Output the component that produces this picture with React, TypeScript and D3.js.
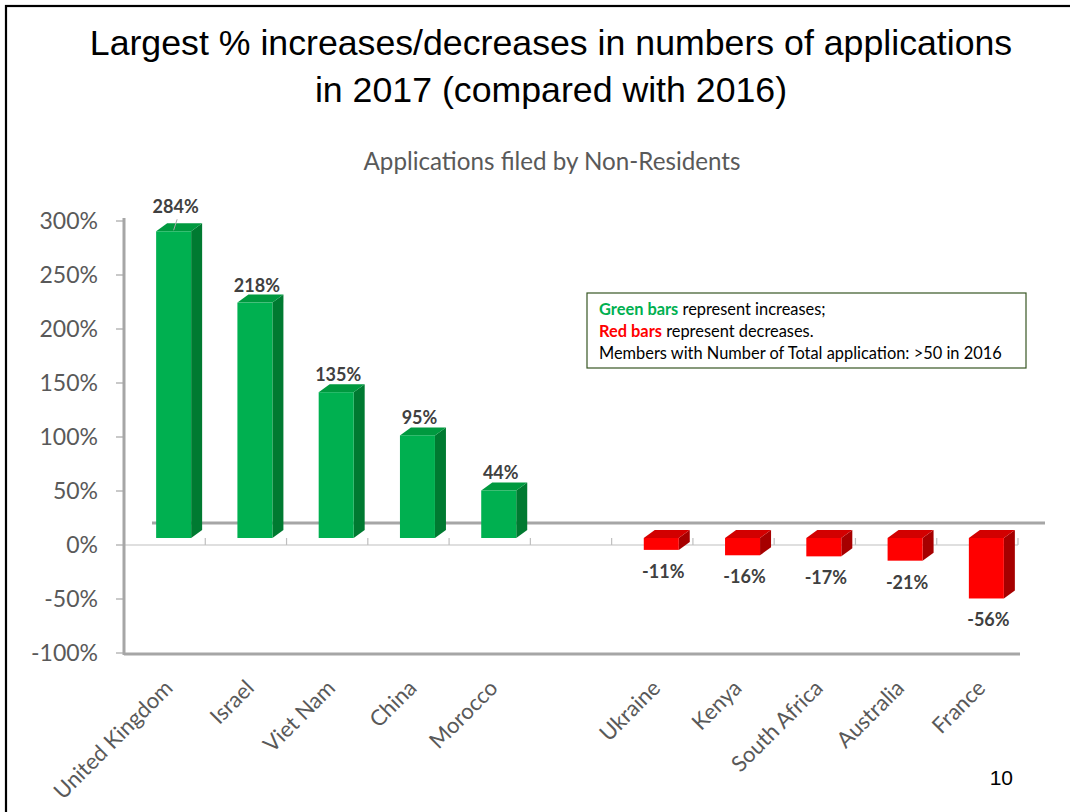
import React from "react";
import * as d3 from "d3";

const categories = ["United Kingdom", "Israel", "Viet Nam", "China", "Morocco", "", "Ukraine", "Kenya", "South Africa", "Australia", "France"];
const values: (number | null)[] = [284, 218, 135, 95, 44, null, -11, -16, -17, -21, -56];
const yTicks = [-100, -50, 0, 50, 100, 150, 200, 250, 300];
const titleLines = ["Largest % increases/decreases in numbers of applications", "in 2017 (compared with 2016)"];
const subtitle = "Applications filed by Non-Residents";

const W = 1070;
const H = 812;
const FONT = "Lato, 'Open Sans', sans-serif";

export default function App() {
  const keys = categories.map((c, i) => `${i}:${c}`);
  const x = d3.scaleBand<string>().domain(keys).range([124, 1018]).paddingInner(0).paddingOuter(0);
  const y = d3.scaleLinear().domain([-100, 300]).range([653, 221]);
  const bw = x.bandwidth();
  const barW = 35;
  const shift = 9; // front-face offset within band (3D perspective)
  const lift = 7;
  const dx = 11;
  const dy = -8;
  const axisColor = "#a6a6a6";

  const bars = values.map((v, i) => {
    if (v === null) return null;
    const cx = (x(keys[i]) as number) + bw / 2 + shift;
    const x0 = cx - barW / 2;
    const yTop = y(Math.max(v, 0)) - lift;
    const yBot = y(Math.min(v, 0)) - lift;
    const pos = v >= 0;
    const cols = pos
      ? { front: "#00b050", top: "#00993f", side: "#007a31" }
      : { front: "#ff0000", top: "#d20000", side: "#a60000" };
    const topFace = [[x0, yTop], [x0 + barW, yTop], [x0 + barW + dx, yTop + dy], [x0 + dx, yTop + dy]];
    const sideFace = [[x0 + barW, yTop], [x0 + barW + dx, yTop + dy], [x0 + barW + dx, yBot + dy], [x0 + barW, yBot]];
    const pts = (p: number[][]) => p.map((q) => q.join(",")).join(" ");
    let labelY: number;
    let leader: number[] | null = null;
    if (pos) {
      labelY = y(v) - lift - 11;
      if (labelY - 14 < y(300) - 12) {
        const base = labelY;
        labelY = base - 7;
        leader = [cx + 3.5, labelY + 6, cx, yTop - 1];
      }
    } else {
      labelY = y(v) + 21;
    }
    return (
      <g key={keys[i]}>
        <polygon points={pts(sideFace)} fill={cols.side} />
        <polygon points={pts(topFace)} fill={cols.top} />
        <rect x={x0} y={yTop} width={barW} height={yBot - yTop} fill={cols.front} />
        {leader && <line x1={leader[0]} y1={leader[1]} x2={leader[2]} y2={leader[3]} stroke="#a6a6a6" strokeWidth={1} />}
        <text x={cx + 2} y={labelY} textAnchor="middle" fontFamily={FONT} fontWeight={700} fontSize={18} fill="#404040">
          {`${v}%`}
        </text>
      </g>
    );
  });

  return (
    <svg width={W} height={H} style={{ position: "absolute", left: 0, top: 0, background: "#fff" }}>
      <rect x={6} y={6} width={W + 10} height={H + 10} fill="#fff" stroke="#000" strokeWidth={2.2} />
      {titleLines.map((t, i) => (
        <text key={i} x={551} y={55 + i * 47} textAnchor="middle" fontFamily="'Liberation Sans', Arial, sans-serif" fontSize={35.7} fill="#000">
          {t}
        </text>
      ))}
      <text x={552} y={170} textAnchor="middle" fontFamily={FONT} fontSize={24.2} fill="#595959">
        {subtitle}
      </text>

      {/* back floor edge */}
      <line x1={152} x2={1045} y1={523} y2={523} stroke={axisColor} strokeWidth={3} />
      {/* zero line */}
      <line x1={124} x2={1018} y1={y(0)} y2={y(0)} stroke="#bfbfbf" strokeWidth={1.2} />
      {keys.map((k) => (
        <line key={k} x1={(x(k) as number) + bw} x2={(x(k) as number) + bw} y1={y(0) - 7} y2={y(0)} stroke="#bfbfbf" strokeWidth={1.2} />
      ))}
      {/* bottom line */}
      <line x1={124} x2={1020} y1={y(-100) + 1} y2={y(-100) + 1} stroke={axisColor} strokeWidth={3} />
      {/* y axis */}
      <line x1={124} x2={124} y1={218} y2={655} stroke={axisColor} strokeWidth={3} />
      {yTicks.map((t) => (
        <g key={t}>
          <line x1={116} x2={124} y1={y(t)} y2={y(t)} stroke={axisColor} strokeWidth={1.2} />
          <text x={98} y={y(t)} dy="0.35em" textAnchor="end" fontFamily={FONT} fontSize={23} fill="#595959">
            {`${t}%`}
          </text>
        </g>
      ))}

      {bars}

      {categories.map((c, i) =>
        c ? (
          <text
            key={keys[i]}
            transform={`translate(${(x(keys[i]) as number) + bw / 2 + shift - 5},684) rotate(-45)`}
            dy="0.35em"
            textAnchor="end"
            fontFamily={FONT}
            fontSize={22}
            fill="#595959"
          >
            {c}
          </text>
        ) : null
      )}

      {/* legend */}
      <rect x={587} y={293} width={439} height={75} fill="#fff" stroke="#375623" strokeWidth={1.2} />
      <text x={599} y={315} fontFamily={FONT} fontSize={16.4} fill="#000">
        <tspan fontWeight={700} fill="#00b050">Green bars</tspan> represent increases;
      </text>
      <text x={599} y={337} fontFamily={FONT} fontSize={16.4} fill="#000">
        <tspan fontWeight={700} fill="#ff0000">Red bars</tspan> represent decreases.
      </text>
      <text x={599} y={359} fontFamily={FONT} fontSize={16.4} fill="#000">
        Members with Number of Total application: &gt;50 in 2016
      </text>

      <text x={1013} y={785} textAnchor="end" fontFamily="'Liberation Sans', Arial, sans-serif" fontSize={21} fill="#000">
        10
      </text>
    </svg>
  );
}
